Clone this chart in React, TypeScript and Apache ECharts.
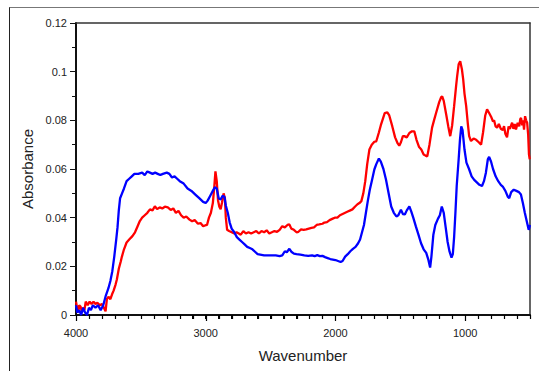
import React, { useEffect, useRef } from "react";
import * as echarts from "echarts";

const xTickValues = [500, 600, 700, 800, 900, 1000, 1100, 1200, 1300, 1400, 1500, 1600, 1700, 1800, 1900, 2000, 2100, 2200, 2300, 2400, 2500, 2600, 2700, 2800, 2900, 3000, 3100, 3200, 3300, 3400, 3500, 3600, 3700, 3800, 3900, 4000];
const xMajorTicks = [1000, 2000, 3000, 4000];

const blueWave = [4000, 3990, 3975, 3960, 3945, 3930, 3915, 3900, 3885, 3870, 3850, 3830, 3810, 3790, 3770, 3750, 3735, 3720, 3705, 3690, 3680, 3670, 3660, 3645, 3630, 3610, 3590, 3570, 3550, 3520, 3490, 3470, 3450, 3430, 3410, 3390, 3370, 3350, 3330, 3300, 3280, 3260, 3240, 3220, 3200, 3170, 3140, 3110, 3080, 3050, 3020, 3000, 2985, 2965, 2945, 2930, 2915, 2900, 2885, 2870, 2855, 2845, 2830, 2815, 2800, 2780, 2760, 2740, 2720, 2700, 2680, 2660, 2640, 2620, 2600, 2580, 2550, 2520, 2490, 2460, 2430, 2410, 2390, 2375, 2355, 2340, 2320, 2300, 2270, 2240, 2210, 2180, 2160, 2140, 2120, 2100, 2080, 2060, 2040, 2020, 2000, 1980, 1960, 1945, 1925, 1905, 1885, 1865, 1845, 1825, 1810, 1795, 1780, 1765, 1750, 1735, 1720, 1700, 1685, 1665, 1650, 1630, 1610, 1590, 1570, 1550, 1530, 1515, 1495, 1480, 1465, 1450, 1430, 1415, 1400, 1380, 1360, 1340, 1320, 1300, 1285, 1270, 1260, 1245, 1230, 1210, 1195, 1180, 1165, 1150, 1135, 1120, 1105, 1095, 1085, 1075, 1065, 1050, 1040, 1030, 1020, 1005, 990, 970, 950, 930, 910, 890, 870, 855, 840, 825, 815, 800, 785, 765, 745, 725, 710, 690, 670, 660, 645, 625, 605, 585, 570, 555, 540, 525, 510, 500];
const blueAbs = [0.004, 0.001, 0.002, 0.0, 0.003, 0.001, 0.0, 0.003, 0.002, 0.004, 0.003, 0.004, 0.002, 0.004, 0.008, 0.011, 0.014, 0.018, 0.024, 0.031, 0.036, 0.043, 0.048, 0.05, 0.052, 0.055, 0.056, 0.057, 0.058, 0.058, 0.0585, 0.0575, 0.059, 0.0585, 0.058, 0.0585, 0.058, 0.0575, 0.058, 0.0585, 0.058, 0.0565, 0.057, 0.056, 0.055, 0.054, 0.052, 0.051, 0.0495, 0.048, 0.0465, 0.046, 0.047, 0.049, 0.051, 0.0525, 0.052, 0.048, 0.0475, 0.049, 0.0485, 0.045, 0.042, 0.038, 0.0355, 0.034, 0.032, 0.031, 0.03, 0.029, 0.028, 0.0275, 0.027, 0.026, 0.025, 0.0248, 0.0245, 0.0245, 0.0245, 0.0245, 0.0242, 0.0245, 0.0262, 0.0258, 0.0272, 0.026, 0.0252, 0.025, 0.0248, 0.0245, 0.0243, 0.0245, 0.0242, 0.0246, 0.0242, 0.0243, 0.0238, 0.0234, 0.023, 0.0228, 0.0226, 0.0222, 0.0218, 0.0222, 0.024, 0.025, 0.0262, 0.0272, 0.028, 0.0295, 0.031, 0.034, 0.037, 0.042, 0.047, 0.0515, 0.055, 0.0598, 0.062, 0.0643, 0.063, 0.06, 0.0556, 0.05, 0.0446, 0.042, 0.0405, 0.041, 0.0433, 0.0415, 0.0413, 0.043, 0.0446, 0.0425, 0.04, 0.0364, 0.033, 0.0295, 0.027, 0.0255, 0.023, 0.0195, 0.024, 0.033, 0.037, 0.0395, 0.041, 0.0446, 0.042, 0.036, 0.03, 0.026, 0.0236, 0.025, 0.032, 0.042, 0.053, 0.064, 0.072, 0.0775, 0.076, 0.068, 0.0626, 0.06, 0.057, 0.0555, 0.0545, 0.0535, 0.053, 0.055, 0.0585, 0.064, 0.065, 0.063, 0.06, 0.057, 0.055, 0.0535, 0.0528, 0.051, 0.0485, 0.048, 0.0505, 0.0515, 0.051, 0.0505, 0.0495, 0.046, 0.042, 0.0385, 0.035, 0.037];

const redWave = [4000, 3992, 3984, 3975, 3965, 3955, 3945, 3935, 3925, 3910, 3895, 3880, 3865, 3850, 3835, 3815, 3800, 3785, 3772, 3762, 3750, 3735, 3722, 3710, 3695, 3685, 3670, 3655, 3646, 3630, 3610, 3590, 3565, 3545, 3525, 3508, 3490, 3470, 3450, 3430, 3410, 3392, 3375, 3355, 3335, 3315, 3292, 3270, 3250, 3230, 3210, 3190, 3170, 3150, 3125, 3105, 3085, 3060, 3040, 3020, 3005, 2990, 2975, 2960, 2945, 2935, 2925, 2915, 2905, 2895, 2885, 2875, 2862, 2852, 2845, 2835, 2820, 2800, 2780, 2762, 2745, 2730, 2710, 2690, 2670, 2650, 2630, 2610, 2590, 2570, 2550, 2530, 2510, 2490, 2470, 2450, 2430, 2410, 2390, 2370, 2355, 2340, 2320, 2300, 2285, 2265, 2245, 2225, 2205, 2185, 2165, 2145, 2125, 2100, 2085, 2065, 2045, 2025, 2005, 1985, 1965, 1945, 1925, 1905, 1885, 1869, 1850, 1830, 1815, 1800, 1785, 1770, 1755, 1738, 1720, 1700, 1685, 1665, 1650, 1638, 1620, 1600, 1585, 1562, 1540, 1520, 1508, 1495, 1480, 1469, 1450, 1430, 1410, 1392, 1375, 1355, 1338, 1320, 1305, 1292, 1275, 1255, 1240, 1223, 1200, 1185, 1177, 1165, 1146, 1130, 1115, 1100, 1085, 1070, 1062, 1050, 1038, 1025, 1015, 1005, 992, 980, 969, 955, 935, 915, 895, 877, 862, 845, 831, 815, 800, 785, 777, 765, 754, 740, 725, 710, 700, 690, 677, 665, 655, 645, 638, 628, 618, 608, 595, 583, 575, 569, 560, 553, 546, 538, 530, 522, 514, 508, 502];
const redAbs = [0.0055, 0.003, 0.001, 0.004, 0.0035, 0.0015, 0.003, 0.002, 0.0055, 0.004, 0.0055, 0.0045, 0.0055, 0.0045, 0.005, 0.004, 0.0045, 0.003, 0.0015, 0.0065, 0.0075, 0.0065, 0.0085, 0.01, 0.0125, 0.0146, 0.019, 0.022, 0.024, 0.027, 0.0298, 0.031, 0.0324, 0.034, 0.0365, 0.0386, 0.04, 0.041, 0.042, 0.0434, 0.043, 0.0447, 0.0435, 0.0442, 0.0438, 0.0445, 0.0442, 0.0432, 0.0438, 0.042, 0.0428, 0.041, 0.04, 0.0405, 0.0392, 0.0385, 0.039, 0.0375, 0.0378, 0.0365, 0.0368, 0.037, 0.04, 0.042, 0.046, 0.052, 0.059, 0.055, 0.047, 0.0445, 0.0435, 0.046, 0.05, 0.048, 0.04, 0.035, 0.0345, 0.034, 0.0335, 0.034, 0.0335, 0.033, 0.0345, 0.0335, 0.034, 0.0335, 0.034, 0.0345, 0.0335, 0.0345, 0.034, 0.0348, 0.0335, 0.034, 0.0345, 0.0342, 0.035, 0.0365, 0.036, 0.037, 0.0372, 0.0355, 0.035, 0.034, 0.0342, 0.0352, 0.035, 0.0352, 0.0355, 0.0358, 0.036, 0.037, 0.0372, 0.0375, 0.038, 0.0382, 0.039, 0.0395, 0.04, 0.04, 0.041, 0.0415, 0.042, 0.0425, 0.043, 0.0434, 0.0445, 0.0455, 0.046, 0.0468, 0.05, 0.055, 0.062, 0.068, 0.07, 0.0712, 0.0714, 0.075, 0.078, 0.08, 0.083, 0.0833, 0.082, 0.0776, 0.073, 0.0705, 0.0696, 0.071, 0.0735, 0.0735, 0.073, 0.0748, 0.0755, 0.0755, 0.072, 0.069, 0.068, 0.066, 0.0655, 0.0652, 0.07, 0.077, 0.08, 0.0832, 0.0875, 0.0895, 0.0898, 0.088, 0.0824, 0.0775, 0.0735, 0.078, 0.0858, 0.094, 0.098, 0.103, 0.1043, 0.101, 0.0968, 0.091, 0.0858, 0.079, 0.0735, 0.0715, 0.0725, 0.072, 0.071, 0.07, 0.075, 0.082, 0.0845, 0.083, 0.0815, 0.0795, 0.08, 0.0775, 0.077, 0.0785, 0.0765, 0.076, 0.0776, 0.0745, 0.073, 0.0775, 0.0765, 0.078, 0.079, 0.0765, 0.0785, 0.0762, 0.079, 0.0775, 0.0805, 0.081, 0.078, 0.08, 0.0762, 0.0817, 0.08, 0.079, 0.074, 0.066, 0.064];

const xName = "Wavenumber";
const yName = "Absorbance";

function pairs(w: number[], a: number[]) {
  return w.map((v, i) => [v, a[i]]);
}

export default function App() {
  const ref = useRef<HTMLDivElement>(null);
  useEffect(() => {
    if (!ref.current) return;
    const chart = echarts.init(ref.current, undefined, { renderer: "svg" });
    const font = "Arial, 'Liberation Sans', sans-serif";
    const border = { show: true, onZero: false, lineStyle: { color: "#333", width: 1.5 } };
    chart.setOption({
      animation: false,
      grid: { left: 76, top: 23, right: 9, bottom: 56 },
      xAxis: [
        {
          type: "value",
          min: 500,
          max: 4000,
          inverse: true,
          interval: 100,
          name: xName,
          nameLocation: "middle",
          nameGap: 33,
          nameTextStyle: { fontSize: 15, color: "#222", fontFamily: font },
          axisLine: { show: true, lineStyle: { color: "#111", width: 2 } },
          axisTick: { show: true, inside: false, length: 4, lineStyle: { color: "#000", width: 1 } },
          axisLabel: {
            interval: 0,
            fontSize: 11,
            color: "#222",
            fontFamily: font,
            margin: 12,
            formatter: (v: number) => (Math.round(v) % 1000 === 0 ? String(Math.round(v)) : ""),
          },
          splitLine: { show: false },
        },
        {
          type: "value",
          min: 500,
          max: 4000,
          inverse: true,
          position: "top",
          axisLine: border,
          axisTick: { show: false },
          axisLabel: { show: false },
          splitLine: { show: false },
        },
      ],
      yAxis: [
        {
          type: "value",
          min: 0,
          max: 0.12,
          interval: 0.02,
          name: yName,
          nameLocation: "middle",
          nameGap: 36,
          nameTextStyle: { fontSize: 15, color: "#222", fontFamily: font },
          axisLine: { show: true, lineStyle: { color: "#111", width: 2 } },
          axisTick: { show: true, length: 6, lineStyle: { color: "#111", width: 1 } },
          minorTick: { show: true, splitNumber: 2, length: 4, lineStyle: { color: "#111", width: 1 } },
          axisLabel: {
            fontSize: 11,
            color: "#222",
            fontFamily: font,
            margin: 9,
            formatter: (v: number) => String(+v.toFixed(2)),
          },
          splitLine: { show: false },
          minorSplitLine: { show: false },
        },
        {
          type: "value",
          min: 0,
          max: 0.12,
          interval: 0.02,
          position: "right",
          axisLine: border,
          axisTick: { show: false },
          axisLabel: { show: false },
          splitLine: { show: false },
        },
      ],
      series: [
        {
          type: "line",
          name: "red",
          data: pairs(redWave, redAbs),
          showSymbol: false,
          lineStyle: { color: "#ff0000", width: 2.3 },
          itemStyle: { color: "#ff0000" },
          clip: true,
        },
        {
          type: "line",
          name: "blue",
          data: pairs(blueWave, blueAbs),
          showSymbol: false,
          lineStyle: { color: "#0000ff", width: 2.3 },
          itemStyle: { color: "#0000ff" },
          clip: true,
        },
        {
          type: "custom",
          name: "xticks",
          silent: true,
          clip: false,
          z: 10,
          data: xTickValues.map((v) => [v, 0, xMajorTicks.includes(v) ? 1 : 0]),
          renderItem: (params: any, api: any) => {
            const p = api.coord([api.value(0), api.value(1)]);
            const len = api.value(2) ? 6 : 4;
            const x = Math.round(p[0]) + 0.5;
            return {
              type: "line",
              shape: { x1: x, y1: p[1], x2: x, y2: p[1] + len },
              style: { stroke: "#000", lineWidth: 1.2 },
            };
          },
        },
      ],
    });
    return () => chart.dispose();
  }, []);
  return (
    <div style={{ position: "absolute", left: 0, top: 0, width: 539, height: 371, background: "#fff" }}>
      <div ref={ref} style={{ width: 539, height: 371, position: "absolute", left: 0, top: 0 }} />
      <div
        style={{
          position: "absolute",
          left: 9,
          top: 7,
          width: 530,
          height: 364,
          borderLeft: "1px solid #222",
          borderTop: "1px solid #777",
          boxSizing: "border-box",
          pointerEvents: "none",
        }}
      />
    </div>
  );
}
